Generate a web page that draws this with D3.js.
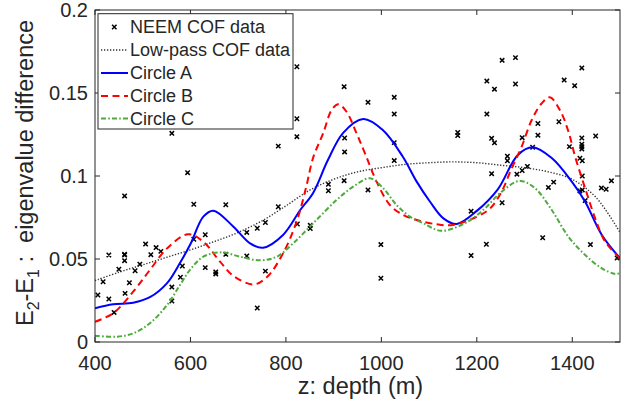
<!DOCTYPE html>
<html><head><meta charset="utf-8">
<script src="https://cdn.jsdelivr.net/npm/d3@7"></script>
<style>
html,body{margin:0;padding:0;background:#fff;}
svg text{font-family:"Liberation Sans",Arial,Helvetica,sans-serif;fill:#262626;}
</style></head>
<body><svg id="c" width="628" height="402"></svg>
<script>
// ---- data ----
const xTicks = [400, 600, 800, 1000, 1200, 1400];
const yTicks = [0, 0.05, 0.1, 0.15, 0.2];
const yTickLabels = ["0", "0.05", "0.1", "0.15", "0.2"];

const cofDepth = [406,417,429,429,440,450,462,462,462,462,463,472,484,494,506,517,528,538,561,561,561,579,583,594,607,607,631,631,653,653,674,674,718,718,740,740,757,757,784,784,823,823,823,824,851,851,889,889,922,923,923,922,972,972,999,999,1027,1027,1027,1027,1160,1160,1188,1188,1221,1221,1220,1231,1231,1237,1237,1253,1253,1264,1264,1281,1281,1284,1295,1295,1306,1317,1328,1328,1338,1350,1361,1372,1383,1394,1405,1416,1420,1420,1420,1420,1420,1421,1421,1416,1421,1427,1438,1449,1461,1471,1482,1494];
const cofValue = [0.0283,0.0363,0.0524,0.0259,0.0178,0.0438,0.0880,0.0528,0.0524,0.0490,0.0293,0.0357,0.0429,0.0469,0.0590,0.0526,0.0569,0.0546,0.1257,0.0331,0.0247,0.0390,0.0458,0.1020,0.0830,0.0619,0.0646,0.0448,0.0422,0.0410,0.0827,0.0528,0.0660,0.0518,0.0685,0.0205,0.0720,0.0427,0.0815,0.1180,0.1658,0.1345,0.1237,0.0711,0.0703,0.0684,0.0950,0.0911,0.1538,0.1229,0.1145,0.0972,0.1444,0.0916,0.0587,0.0384,0.1474,0.1373,0.1201,0.1093,0.1262,0.1244,0.0788,0.0521,0.1572,0.1373,0.0589,0.1227,0.1014,0.1523,0.1200,0.1697,0.0839,0.1119,0.1092,0.1713,0.1554,0.1011,0.1231,0.1033,0.1058,0.1173,0.1316,0.1246,0.0628,0.0931,0.0963,0.1327,0.1578,0.1177,0.1544,0.1107,0.1651,0.1229,0.1191,0.1177,0.1163,0.1092,0.1000,0.0910,0.0916,0.0852,0.0587,0.1241,0.0928,0.0920,0.0971,0.0506];

const lowDepth = [400,450,500,550,600,650,700,750,800,850,900,950,1000,1050,1100,1150,1200,1250,1300,1350,1400,1450,1500];
const lowValue = [0.037,0.042,0.0465,0.051,0.0555,0.0605,0.066,0.073,0.082,0.0915,0.098,0.1025,0.105,0.107,0.108,0.1085,0.108,0.1065,0.105,0.1025,0.098,0.087,0.066];

const aDepth = [400,438,480,515,551,578,600,627,648,690,725,752,794,830,857,888,920,962,1003,1045,1074,1102,1130,1158,1200,1244,1286,1317,1357,1399,1427,1462,1500];
const aValue = [0.0203,0.0227,0.0237,0.027,0.0355,0.0476,0.059,0.0755,0.0791,0.0695,0.0594,0.0568,0.0645,0.0795,0.0898,0.1096,0.126,0.1343,0.1277,0.1116,0.0966,0.0845,0.0745,0.0711,0.079,0.092,0.1127,0.1173,0.1108,0.0966,0.0845,0.0645,0.0505];

const bDepth = [400,438,480,515,551,595,627,662,690,732,760,794,823,843,857,878,896,910,927,948,967,990,1018,1046,1074,1116,1150,1200,1228,1252,1273,1294,1315,1336,1353,1374,1392,1406,1427,1448,1469,1500];
const bValue = [0.0122,0.0173,0.0303,0.0434,0.0564,0.0649,0.0604,0.0484,0.0398,0.0347,0.039,0.0534,0.073,0.094,0.111,0.1257,0.1398,0.1432,0.1387,0.1257,0.1127,0.0966,0.0825,0.0765,0.0735,0.0709,0.0705,0.0755,0.0805,0.0906,0.1046,0.1177,0.1337,0.1438,0.1474,0.1398,0.1267,0.1116,0.0926,0.0745,0.0604,0.0505];

const cDepth = [400,445,480,515,551,578,599,627,665,704,746,781,815,857,906,941,976,1004,1032,1060,1088,1125,1175,1217,1252,1290,1322,1357,1392,1427,1462,1490,1500];
const cValue = [0.0038,0.0032,0.0052,0.0113,0.0223,0.0343,0.0434,0.0514,0.054,0.0514,0.0492,0.0514,0.0594,0.0715,0.0855,0.0936,0.0986,0.0926,0.0825,0.0755,0.0715,0.067,0.0715,0.0805,0.0906,0.097,0.0926,0.0795,0.0634,0.0524,0.0444,0.041,0.0415];

const legendLabels = ["NEEM COF data", "Low-pass COF data", "Circle A", "Circle B", "Circle C"];

// ---- layout ----
const svg = d3.select("#c");
const L = 95, R = 620, T = 10, B = 342;
const x = d3.scaleLinear().domain([400, 1500]).range([L, R]);
const y = d3.scaleLinear().domain([0, 0.2]).range([B, T]);
const axisColor = "#262626";

svg.append("defs").append("clipPath").attr("id","clip")
  .append("rect").attr("x",L).attr("y",T).attr("width",R-L).attr("height",B-T);

const styles = [
  null,
  {stroke:"#333333", width:1.4, dash:"1.3,1.7"},
  {stroke:"#0000ff", width:2, dash:null},
  {stroke:"#ff0000", width:2, dash:"7,4.5"},
  {stroke:"#4dab3b", width:2, dash:"5,2.2,1.6,2.2"}
];

const g = svg.append("g").attr("clip-path","url(#clip)");

// scatter
function xMark(sel, cx, cy, s) {
  sel.append("path")
    .attr("d", `M${cx-s},${cy-s}L${cx+s},${cy+s}M${cx-s},${cy+s}L${cx+s},${cy-s}`)
    .attr("stroke","#000").attr("stroke-width",1.5).attr("fill","none");
}
cofDepth.forEach((d,i)=> xMark(g, x(d), y(cofValue[i]), 2.2));

const line = d3.line().curve(d3.curveCatmullRom.alpha(0.5)).x(d=>x(d[0])).y(d=>y(d[1]));
const series = [
  [lowDepth, lowValue, styles[1]],
  [aDepth, aValue, styles[2]],
  [bDepth, bValue, styles[3]],
  [cDepth, cValue, styles[4]]
];
series.forEach(([ds, vs, st]) => {
  g.append("path").datum(ds.map((d,i)=>[d, vs[i]]))
    .attr("d", line).attr("fill","none")
    .attr("stroke", st.stroke).attr("stroke-width", st.width)
    .attr("stroke-dasharray", st.dash);
});

// axes box
const ax = svg.append("g");
ax.append("rect").attr("x",L).attr("y",T).attr("width",R-L).attr("height",B-T)
  .attr("fill","none").attr("stroke",axisColor).attr("stroke-width",1);
const tl = 5;
xTicks.forEach(t=>{
  ax.append("line").attr("x1",x(t)).attr("x2",x(t)).attr("y1",B).attr("y2",B-tl).attr("stroke",axisColor);
  ax.append("line").attr("x1",x(t)).attr("x2",x(t)).attr("y1",T).attr("y2",T+tl).attr("stroke",axisColor);
  ax.append("text").attr("x",x(t)).attr("y",370).attr("text-anchor","middle")
    .attr("font-size",20).text(t);
});
yTicks.forEach((t,i)=>{
  ax.append("line").attr("x1",L).attr("x2",L+tl).attr("y1",y(t)).attr("y2",y(t)).attr("stroke",axisColor);
  ax.append("line").attr("x1",R).attr("x2",R-tl).attr("y1",y(t)).attr("y2",y(t)).attr("stroke",axisColor);
  ax.append("text").attr("x",88).attr("y",y(t)).attr("dy","0.36em").attr("text-anchor","end")
    .attr("font-size",20).text(yTickLabels[i]);
});

// axis labels
ax.append("text").attr("x",(L+R)/2+3).attr("y",394).attr("text-anchor","middle")
  .attr("font-size",23.5).text("z: depth (m)");
const yl = ax.append("text").attr("transform",`translate(33,${(T+B)/2-3}) rotate(-90)`)
  .attr("text-anchor","middle").attr("font-size",23.5);
yl.append("tspan").text("E");
yl.append("tspan").attr("font-size",16).attr("dy",6).text("2");
yl.append("tspan").attr("dy",-6).text("-E");
yl.append("tspan").attr("font-size",16).attr("dy",6).text("1");
yl.append("tspan").attr("dy",-6).text("\u00a0:\u00a0\u00a0eigenvalue difference");

// legend
const lg = svg.append("g");
lg.append("rect").attr("x",98).attr("y",13.7).attr("width",195).attr("height",115.3)
  .attr("fill","#fff").attr("stroke",axisColor).attr("stroke-width",1);
const ly = [27, 50, 73, 96, 118.5];
legendLabels.forEach((lab,i)=>{
  if (i===0) xMark(lg, 114.3, ly[i], 2.2);
  else {
    const st = styles[i];
    lg.append("line").attr("x1",101).attr("x2",128).attr("y1",ly[i]).attr("y2",ly[i])
      .attr("stroke",st.stroke).attr("stroke-width",st.width).attr("stroke-dasharray",st.dash);
  }
  lg.append("text").attr("x",130).attr("y",ly[i]).attr("dy","0.36em").attr("font-size",18).text(lab);
});
</script></body></html>
